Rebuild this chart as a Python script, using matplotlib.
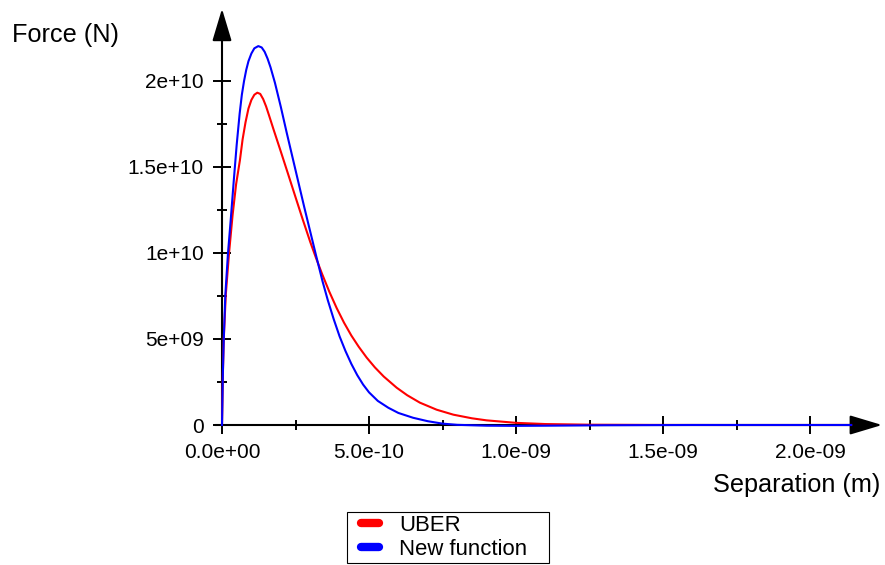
import matplotlib
matplotlib.use("Agg")
import matplotlib.pyplot as plt
from matplotlib.lines import Line2D
from matplotlib.legend_handler import HandlerLine2D

plt.rcParams["font.family"] = ["Liberation Sans", "DejaVu Sans"]

# values (separation in m, force in N)
uber_sep = [0, 3e-12, 6e-12, 1.3e-11, 2.4e-11, 3.6e-11, 4.8e-11, 6.1e-11,
            7.0e-11, 8.0e-11, 9.0e-11, 1.0e-10, 1.1e-10, 1.2e-10, 1.3e-10,
            1.4e-10, 1.5e-10, 1.6e-10, 1.75e-10, 2.0e-10, 2.25e-10, 2.5e-10,
            2.75e-10, 3.0e-10, 3.2e-10, 3.4e-10, 3.65e-10, 3.9e-10, 4.15e-10,
            4.4e-10, 4.65e-10, 4.92e-10, 5.2e-10, 5.5e-10, 5.94e-10, 6.3e-10,
            6.73e-10, 7.3e-10, 7.87e-10, 8.5e-10, 9.0e-10, 1.0e-9, 1.1e-9,
            1.25e-9, 1.45e-9, 1.7e-9, 1.95e-9, 2.14e-9]
uber_force = [0, 3.0e9, 5.0e9, 7.6e9, 1.0e10, 1.22e10, 1.4e10, 1.54e10,
              1.66e10, 1.76e10, 1.84e10, 1.89e10, 1.92e10, 1.932e10, 1.925e10,
              1.895e10, 1.852e10, 1.8e10, 1.72e10, 1.59e10, 1.458e10, 1.325e10,
              1.193e10, 1.065e10, 9.7e9, 8.8e9, 7.75e9, 6.8e9, 5.95e9,
              5.2e9, 4.55e9, 3.92e9, 3.35e9, 2.82e9, 2.17e9, 1.73e9,
              1.3e9, 8.9e8, 6.0e8, 3.9e8, 2.7e8, 1.25e8, 5.5e7,
              1.6e7, 4e6, 0, 0, 0]

new_sep = [0, 3e-12, 6e-12, 1.13e-11, 2.04e-11, 3.0e-11, 4.0e-11, 5.0e-11,
           6.0e-11, 6.75e-11, 7.5e-11, 8.25e-11, 9.0e-11, 1.0e-10, 1.1e-10,
           1.235e-10, 1.35e-10, 1.45e-10, 1.55e-10, 1.65e-10, 1.8e-10,
           2.0e-10, 2.2e-10, 2.4e-10, 2.6e-10, 2.8e-10, 3.0e-10, 3.2e-10,
           3.42e-10, 3.6e-10, 3.8e-10, 4.0e-10, 4.2e-10, 4.4e-10, 4.6e-10,
           4.8e-10, 5.0e-10, 5.3e-10, 5.66e-10, 6.0e-10, 6.5e-10, 7.0e-10,
           7.5e-10, 8.0e-10, 9.0e-10, 1.0e-9, 1.1e-9, 1.3e-9, 1.6e-9,
           1.9e-9, 2.14e-9]
new_force = [0, 3.0e9, 5.0e9, 7.56e9, 1.0e10, 1.2e10, 1.42e10, 1.63e10,
             1.81e10, 1.92e10, 2.0e10, 2.065e10, 2.115e10, 2.16e10, 2.19e10,
             2.203e10, 2.195e10, 2.17e10, 2.13e10, 2.08e10, 1.99e10,
             1.85e10, 1.7e10, 1.555e10, 1.41e10, 1.265e10, 1.125e10, 9.85e9,
             8.35e9, 7.25e9, 6.15e9, 5.15e9, 4.3e9, 3.55e9, 2.9e9,
             2.35e9, 1.9e9, 1.4e9, 1.0e9, 7.0e8, 4.2e8, 2.2e8,
             8e7, 1e7, -4e7, -5e7, -4e7, -1.5e7, 0,
             0, 0]

x_ticks = [0, 5e-10, 1e-9, 1.5e-9, 2e-9]
x_tick_labels = ["0.0e+00", "5.0e-10", "1.0e-09", "1.5e-09", "2.0e-09"]
x_minor = [2.5e-10, 7.5e-10, 1.25e-9, 1.75e-9]
y_ticks = [0, 5e9, 1e10, 1.5e10, 2e10]
y_tick_labels = ["0", "5e+09", "1e+10", "1.5e+10", "2e+10"]
y_minor = [2.5e9, 7.5e9, 1.25e10, 1.75e10]

W, H = 885, 565
x_lo, x_hi = -2.4e-11, 2.25e-9
y_lo, y_hi = -3e8, 2.45e10
x_tip, y_tip = 2.245e-9, 2.42e10


def px_x(v):
    return 222 + v / 5e-10 * 147


def px_y(v):
    return 425 - v / 5e9 * 86


fig = plt.figure(figsize=(W / 100, H / 100), dpi=100)
left, right = px_x(x_lo) / W, px_x(x_hi) / W
bottom, top = 1 - px_y(y_lo) / H, 1 - px_y(y_hi) / H
ax = fig.add_axes([left, bottom, right - left, top - bottom])
ax.set_xlim(x_lo, x_hi)
ax.set_ylim(y_lo, y_hi)

for side in ("top", "right", "bottom", "left"):
    ax.spines[side].set_color("none")
ax.spines["bottom"].set_position(("data", 0))
ax.spines["left"].set_position(("data", 0))

ax.set_xticks(x_ticks, x_tick_labels)
ax.set_xticks(x_minor, minor=True)
ax.set_yticks(y_ticks, y_tick_labels)
ax.set_yticks(y_minor, minor=True)
ax.tick_params(which="major", direction="inout", length=13, width=1.4,
               labelsize=15, pad=6.5, color="black")
ax.tick_params(which="minor", direction="inout", length=7, width=1.4,
               color="black")

# axis lines with arrow heads
arrow = dict(arrowstyle="-|>,head_length=2.0,head_width=0.6",
             mutation_scale=10, lw=1.5, color="black",
             shrinkA=0, shrinkB=0)
ax.annotate("", xy=(x_tip, 0), xytext=(x_lo, 0), arrowprops=arrow,
            annotation_clip=False, zorder=1)
ax.annotate("", xy=(0, y_tip), xytext=(0, 0), arrowprops=arrow,
            annotation_clip=False, zorder=1)

ax.plot(uber_sep, uber_force, color="#ff0000", lw=1.5, zorder=3)
ax.plot(new_sep, new_force, color="#0000ff", lw=1.5, zorder=3)

fig.text(12 / W, 1 - 42 / H, "Force (N)", fontsize=18.2,
         ha="left", va="baseline")
fig.text(880 / W, 1 - 492 / H, "Separation (m)", fontsize=18.2,
         ha="right", va="baseline")

handles = [Line2D([], [], color="#ff0000", lw=6, solid_capstyle="round"),
           Line2D([], [], color="#0000ff", lw=6, solid_capstyle="round")]
leg = fig.legend(handles, ["UBER", "New function"],
                 loc="upper left",
                 bbox_to_anchor=(347 / W, 1 - 564 / H, (549 - 347) / W, 52 / H),
                 mode="expand", borderaxespad=0, borderpad=0.12,
                 handlelength=1.32, handletextpad=0.91, labelspacing=0.15,
                 fontsize=15.9, fancybox=False, framealpha=1, edgecolor="black",
                 handler_map={Line2D: HandlerLine2D(xpad=0.5)})
leg.get_frame().set_linewidth(0.8)

fig.savefig("out.png", dpi=100)
